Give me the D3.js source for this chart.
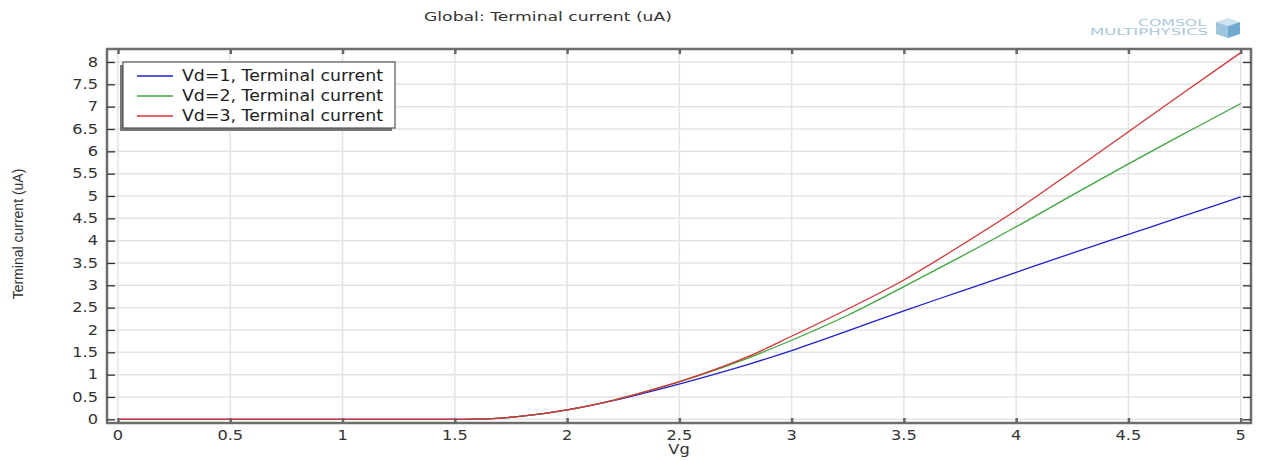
<!DOCTYPE html>
<html>
<head>
<meta charset="utf-8">
<script src="https://cdn.jsdelivr.net/npm/d3@7"></script>
<style>
  body { margin: 0; background: #fff; }
  svg { display: block; }
</style>
</head>
<body>
<div id="chart"></div>
<script>
  // data
  const vg = [0, 0.5, 1, 1.5, 1.6, 1.8, 2.0, 2.2, 2.4, 2.6, 2.8, 3.0, 3.25, 3.5, 3.75, 4.0, 4.25, 4.5, 4.75, 5.0];
  const vd1 = [0, 0, 0, 0, 0.003, 0.07, 0.21, 0.41, 0.66, 0.93, 1.22, 1.54, 1.98, 2.43, 2.86, 3.29, 3.72, 4.14, 4.56, 4.98];
  const vd2 = [0, 0, 0, 0, 0.003, 0.07, 0.21, 0.42, 0.69, 1.0, 1.36, 1.77, 2.33, 2.97, 3.63, 4.31, 5.02, 5.72, 6.40, 7.07];
  const vd3 = [0, 0, 0, 0, 0.003, 0.07, 0.21, 0.42, 0.69, 1.01, 1.39, 1.86, 2.47, 3.12, 3.88, 4.68, 5.55, 6.44, 7.33, 8.21];
  const seriesNames = ["Vd=1, Terminal current", "Vd=2, Terminal current", "Vd=3, Terminal current"];
  const seriesColors = ["#1f1fd6", "#3aa83a", "#e03030"];
  const xTicks = [0, 0.5, 1, 1.5, 2, 2.5, 3, 3.5, 4, 4.5, 5];
  const yTicks = d3.range(0, 8.01, 0.5);

  const W = 1261, H = 461;
  const FRAME = { left: 107, right: 1251, top: 49, bottom: 423 };

  const x = d3.scaleLinear().domain([0, 5]).range([118, 1240.7]);
  const y = d3.scaleLinear().domain([0, 8]).range([419.3, 62]);

  const svg = d3.select("#chart").append("svg")
    .attr("width", W)
    .attr("height", H);

  // TITLE (the original is stretched sideways)
  svg.append("text")
    .attr("x", 548).attr("y", 21)
    .attr("text-anchor", "middle")
    .attr("textLength", 248)
    .attr("lengthAdjust", "spacingAndGlyphs")
    .style("font-family", "DejaVu Sans")
    .style("font-size", "13px")
    .style("fill", "#333")
    .text("Global: Terminal current (uA)");

  // COMSOL LOGO
  svg.append("text")
    .attr("x", 1206).attr("y", 26)
    .attr("text-anchor", "end")
    .attr("textLength", 68)
    .attr("lengthAdjust", "spacingAndGlyphs")
    .style("font-family", "DejaVu Sans")
    .style("font-size", "8px")
    .style("fill", "#a9c8de")
    .text("COMSOL");
  svg.append("text")
    .attr("x", 1208).attr("y", 35)
    .attr("text-anchor", "end")
    .attr("textLength", 118)
    .attr("lengthAdjust", "spacingAndGlyphs")
    .style("font-family", "DejaVu Sans")
    .style("font-size", "8px")
    .style("fill", "#a9c8de")
    .text("MULTIPHYSICS");
  const cube = svg.append("g").attr("transform", "translate(1228,28)");
  cube.append("path").attr("d", "M-12,-6 L0,-10 L12,-6 L0,-2 Z").style("fill", "#cfe3f0");
  cube.append("path").attr("d", "M-12,-6 L0,-2 L0,10 L-12,6 Z").style("fill", "#9cc6e0");
  cube.append("path").attr("d", "M12,-6 L0,-2 L0,10 L12,6 Z").style("fill", "#6fa9cf");

  // GRID
  svg.append("g").selectAll("line").data(xTicks).join("line")
    .attr("x1", d => x(d)).attr("x2", d => x(d))
    .attr("y1", FRAME.top).attr("y2", FRAME.bottom)
    .style("stroke", "#e4e4e4").style("stroke-width", 1.5);
  svg.append("g").selectAll("line").data(yTicks).join("line")
    .attr("x1", FRAME.left).attr("x2", FRAME.right)
    .attr("y1", d => y(d)).attr("y2", d => y(d))
    .style("stroke", "#e4e4e4").style("stroke-width", 1.5);

  // CURVES
  const allSeries = [vd1, vd2, vd3];
  const line = d3.line()
    .x((d, i) => x(vg[i]))
    .y(d => y(d))
    .curve(d3.curveMonotoneX);
  allSeries.forEach((s, k) => {
    svg.append("path")
      .datum(s)
      .attr("d", line)
      .style("fill", "none")
      .style("stroke", seriesColors[k])
      .style("stroke-width", 1.3);
  });

  // FRAME
  svg.append("rect")
    .attr("x", FRAME.left).attr("y", FRAME.top)
    .attr("width", FRAME.right - FRAME.left)
    .attr("height", FRAME.bottom - FRAME.top)
    .style("fill", "none")
    .style("stroke", "#6e6e6e")
    .style("stroke-width", 2.5);

  // AXES (ticks pointing inward)
  const fmt = d => String(d);
  const axLeft = svg.append("g").attr("transform", `translate(${FRAME.left},0)`)
    .call(d3.axisRight(y).tickValues(yTicks).tickSize(8).tickFormat(""));
  const axRight = svg.append("g").attr("transform", `translate(${FRAME.right},0)`)
    .call(d3.axisLeft(y).tickValues(yTicks).tickSize(8).tickFormat(""));
  const axBottom = svg.append("g").attr("transform", `translate(0,${FRAME.bottom})`)
    .call(d3.axisTop(x).tickValues(xTicks).tickSize(5).tickFormat(""));
  const axTop = svg.append("g").attr("transform", `translate(0,${FRAME.top})`)
    .call(d3.axisBottom(x).tickValues(xTicks).tickSize(5).tickFormat(""));
  [axLeft, axRight].forEach(a => {
    a.select(".domain").remove();
    a.selectAll(".tick line").style("stroke", "#333").style("stroke-width", 1.3);
  });
  [axBottom, axTop].forEach(a => {
    a.select(".domain").remove();
    a.selectAll(".tick line").style("stroke", "#666").style("stroke-width", 2.5);
  });

  // TICK LABELS (stretched sideways like the original)
  svg.append("g").selectAll("text").data(yTicks).join("text")
    .attr("transform", d => `translate(98,${y(d)}) scale(1.2,1)`)
    .attr("dy", "0.35em")
    .attr("text-anchor", "end")
    .style("font-family", "DejaVu Sans")
    .style("font-size", "13.5px")
    .style("fill", "#333")
    .text(fmt);
  svg.append("g").selectAll("text").data(xTicks).join("text")
    .attr("transform", d => `translate(${x(d)},435) scale(1.2,1)`)
    .attr("dy", "0.35em")
    .attr("text-anchor", "middle")
    .style("font-family", "DejaVu Sans")
    .style("font-size", "13.5px")
    .style("fill", "#333")
    .text(fmt);

  // AXIS LABELS
  svg.append("text")
    .attr("transform", "translate(679,449) scale(1.2,1)")
    .attr("dy", "0.35em")
    .attr("text-anchor", "middle")
    .style("font-family", "DejaVu Sans")
    .style("font-size", "13.5px")
    .style("fill", "#333")
    .text("Vg");
  svg.append("text")
    .attr("transform", "translate(18,234) rotate(-90)")
    .attr("dy", "0.35em")
    .attr("text-anchor", "middle")
    .style("font-family", "Liberation Sans")
    .style("font-size", "14px")
    .style("fill", "#333")
    .text("Terminal current (uA)");

  // LEGEND
  const legend = svg.append("g");
  legend.append("rect")
    .attr("x", 120).attr("y", 65).attr("width", 272).attr("height", 66)
    .style("fill", "#777");
  legend.append("rect")
    .attr("x", 123).attr("y", 62).attr("width", 272).attr("height", 66)
    .style("fill", "#fff")
    .style("stroke", "#555")
    .style("stroke-width", 1.2);
  seriesNames.forEach((name, i) => {
    const ly = 76 + i * 20;
    legend.append("line")
      .attr("x1", 137).attr("x2", 173)
      .attr("y1", ly).attr("y2", ly)
      .style("stroke", seriesColors[i])
      .style("stroke-width", 1.5);
    legend.append("text")
      .attr("x", 182).attr("y", ly)
      .attr("dy", "0.35em")
      .attr("textLength", 201)
      .attr("lengthAdjust", "spacingAndGlyphs")
      .style("font-family", "DejaVu Sans")
      .style("font-size", "15px")
      .style("fill", "#222")
      .text(name);
  });
</script>
</body>
</html>
